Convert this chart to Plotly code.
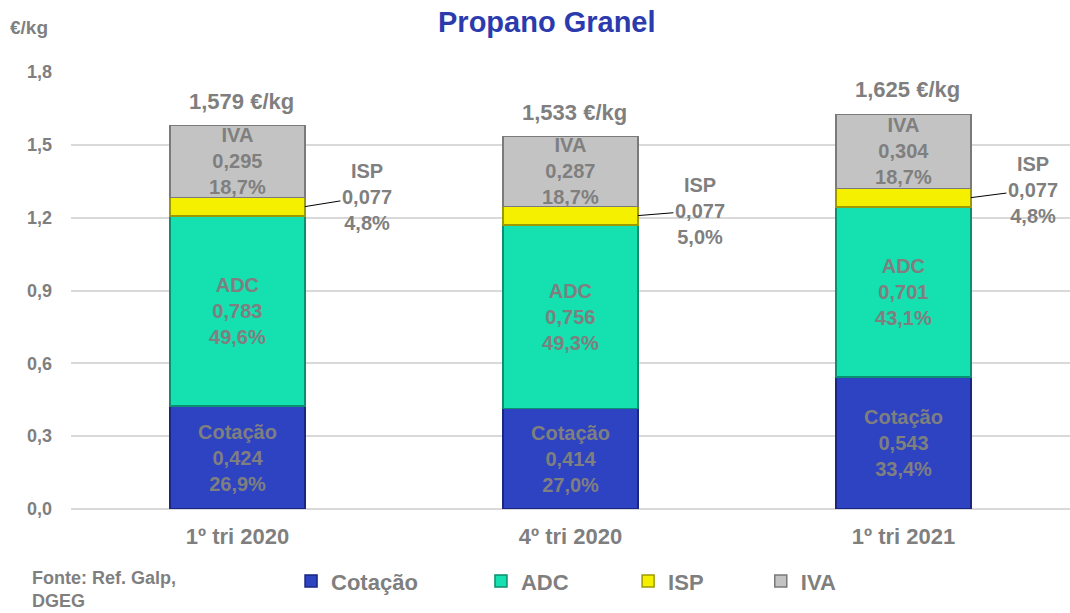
import plotly.graph_objects as go

categories = ["1º tri 2020", "4º tri 2020", "1º tri 2021"]
cotacao = [0.424, 0.414, 0.543]
adc = [0.783, 0.756, 0.701]
isp = [0.077, 0.077, 0.077]
iva = [0.295, 0.287, 0.304]
cotacao_pct = ["26,9%", "27,0%", "33,4%"]
adc_pct = ["49,6%", "49,3%", "43,1%"]
isp_pct = ["4,8%", "5,0%", "4,8%"]
iva_pct = ["18,7%", "18,7%", "18,7%"]
totals = [1.579, 1.533, 1.625]
y_ticks = [0.0, 0.3, 0.6, 0.9, 1.2, 1.5, 1.8]

FONT = "Arial, Liberation Sans, sans-serif"
GRAY = "#7F7F7F"
BAR_W = 0.405

def fmt(v):
    return f"{v:.3f}".replace(".", ",")

series = [
    ("Cotação", cotacao, cotacao_pct, "#2E43C2", "#1A2680", True),
    ("ADC", adc, adc_pct, "#14E0B0", "#0B8F70", True),
    ("ISP", isp, isp_pct, "#F5F000", "#9C9A00", False),
    ("IVA", iva, iva_pct, "#C3C3C3", "#7A7A7A", True),
]

fig = go.Figure()
legend_names = ["legend", "legend2", "legend3", "legend4"]
for k, (name, vals, pct, col, edge, inside) in enumerate(series):
    texts = [f"{name}<br>{fmt(v)}<br>{p}" if inside else "" for v, p in zip(vals, pct)]
    fig.add_trace(go.Bar(
        name=name, x=categories, y=vals, width=BAR_W,
        marker=dict(color=col, line=dict(color=edge, width=1.5)),
        text=texts, textposition="inside", insidetextanchor="middle",
        textangle=0, constraintext="none",
        textfont=dict(family=FONT, size=20, color=GRAY, weight="bold"),
        hoverinfo="skip", legend=legend_names[k],
    ))

# total labels above bars
for i, t in enumerate(totals):
    fig.add_annotation(x=categories[i], y=t, text=f"<b>{fmt(t)} €/kg</b>",
                       showarrow=False, yanchor="bottom", yshift=10, xshift=4,
                       font=dict(family=FONT, size=22, color=GRAY))

# ISP labels outside with leader lines
ay_off = [-10, -5, -8]
for i in range(3):
    ymid = cotacao[i] + adc[i] + isp[i] / 2
    fig.add_annotation(x=i + BAR_W / 2, y=ymid, xref="x", yref="y",
                       text=f"<b>ISP<br>{fmt(isp[i])}<br>{isp_pct[i]}</b>",
                       showarrow=True, arrowhead=0, arrowwidth=1, arrowcolor="black",
                       ax=62, ay=ay_off[i], standoff=0,
                       font=dict(family=FONT, size=20, color=GRAY))

fig.add_annotation(x=0.4765, y=1, xref="paper", yref="paper", yanchor="middle",
                   yshift=50, text="<b>Propano Granel</b>", showarrow=False,
                   font=dict(family=FONT, size=29, color="#2B3BAE"))
fig.add_annotation(x=-0.063, y=1, xref="paper", yref="paper", xanchor="left", yanchor="middle",
                   yshift=45, text="<b>€/kg</b>",
                   showarrow=False, font=dict(family=FONT, size=19, color=GRAY))
fig.add_annotation(x=-0.041, y=-0.185, xref="paper", yref="paper", xanchor="left", yanchor="middle",
                   text="<b>Fonte: Ref. Galp,<br>DGEG</b>", showarrow=False, align="left",
                   font=dict(family=FONT, size=18, color=GRAY))

leg_x = [0.272, 0.4495, 0.587, 0.711]
leg_common = dict(orientation="h", yanchor="middle", y=0.052, yref="container",
                  xanchor="left", xref="container",
                  font=dict(family=FONT, size=22, color=GRAY, weight="bold"),
                  bgcolor="rgba(0,0,0,0)", itemwidth=30)
layout_legends = {}
for k, ln in enumerate(legend_names):
    layout_legends[ln] = dict(leg_common, x=leg_x[k])

fig.update_layout(
    barmode="stack", bargap=1 - BAR_W,
    width=1070, height=613,
    margin=dict(l=71, r=0, t=72, b=104, autoexpand=False),
    plot_bgcolor="white", paper_bgcolor="white",
    separators=",.",
    showlegend=True,
    xaxis=dict(showgrid=False, showline=False, ticks="", automargin=False,
               ticklabelstandoff=12,
               tickfont=dict(family=FONT, size=22, color=GRAY, weight="bold")),
    yaxis=dict(range=[0, 1.8], tickvals=y_ticks, tickformat=".1f", automargin=False,
               showgrid=True, gridcolor="#D9D9D9", gridwidth=1.5, zeroline=True,
               zerolinecolor="#D9D9D9", zerolinewidth=1.5, showline=False,
               ticks="", ticklabelstandoff=18,
               tickfont=dict(family=FONT, size=18, color=GRAY, weight="bold")),
    **layout_legends,
)
fig.write_html("out.html", config={"displayModeBar": False})

# remove the default page margin so the figure sits at the window's top-left corner
with open("out.html", encoding="utf-8") as f:
    html = f.read()
html = html.replace("<head>", "<head><style>html,body{margin:0;padding:0;overflow:hidden;}</style>", 1)
with open("out.html", "w", encoding="utf-8") as f:
    f.write(html)
